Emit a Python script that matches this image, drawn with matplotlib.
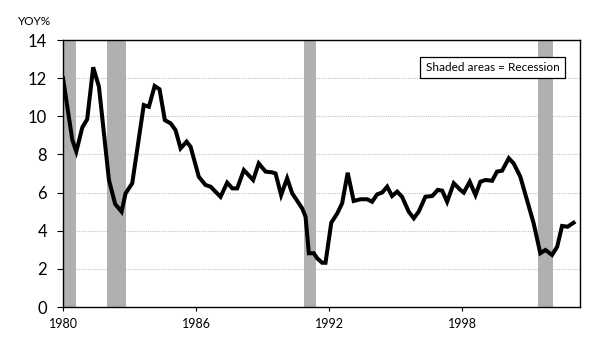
import numpy as np
import matplotlib
matplotlib.use('Agg')
import matplotlib.pyplot as plt

plt.rcParams['font.family'] = ['Lato', 'DejaVu Sans']

# YOY % change, vertices (decimal years)
dates = [1980.00, 1980.42, 1980.60, 1980.87, 1981.09, 1981.36, 1981.62, 1982.07,
         1982.35, 1982.64, 1982.82, 1983.12, 1983.64, 1983.87, 1984.13, 1984.35,
         1984.59, 1984.85, 1985.07, 1985.30, 1985.57, 1985.75, 1986.12, 1986.42,
         1986.65, 1987.10, 1987.40, 1987.63, 1987.85, 1988.15, 1988.57, 1988.82,
         1989.13, 1989.43, 1989.58, 1989.83, 1990.10, 1990.33, 1990.78, 1990.93,
         1991.08, 1991.30, 1991.46, 1991.68, 1991.83, 1992.09, 1992.36, 1992.58,
         1992.83, 1993.10, 1993.41, 1993.71, 1993.93, 1994.16, 1994.38, 1994.61,
         1994.83, 1995.06, 1995.28, 1995.58, 1995.81, 1996.03, 1996.33, 1996.64,
         1996.89, 1997.09, 1997.31, 1997.61, 1997.91, 1998.06, 1998.33, 1998.59,
         1998.81, 1999.04, 1999.34, 1999.56, 1999.79, 2000.09, 2000.31, 2000.61,
         2000.91, 2001.21, 2001.51, 2001.74, 2002.04, 2002.27, 2002.49, 2002.74,
         2003.01]
yoy = [12.0, 8.76, 8.15, 9.42, 9.84, 12.57, 11.55, 6.66,
       5.4, 5.0, 5.96, 6.49, 10.59, 10.5, 11.59, 11.42,
       9.8, 9.63, 9.28, 8.32, 8.67, 8.4, 6.83, 6.4,
       6.31, 5.78, 6.52, 6.22, 6.22, 7.18, 6.66, 7.53,
       7.1, 7.06, 7.0, 5.87, 6.75, 5.96, 5.17, 4.74,
       2.82, 2.82, 2.55, 2.32, 2.32, 4.42, 4.91, 5.44,
       7.04, 5.56, 5.65, 5.65, 5.52, 5.91, 6.0, 6.31,
       5.82, 6.05, 5.78, 5.0, 4.65, 5.0, 5.78, 5.82,
       6.14, 6.1, 5.52, 6.49, 6.14, 6.0, 6.57, 5.87,
       6.57, 6.66, 6.62, 7.1, 7.15, 7.8, 7.53, 6.83,
       5.61, 4.39, 2.82, 2.99, 2.73, 3.16, 4.25, 4.21,
       4.42]

# recession periods as shown
rec_start = [1980.05, 1982.0, 1990.85, 2001.41]
rec_end = [1980.60, 1982.86, 1991.38, 2002.09]

xticks = [1980, 1986, 1992, 1998]
yticks = [0, 2, 4, 6, 8, 10, 12, 14]

fig = plt.figure(figsize=(6, 3.56), dpi=100)
ax = fig.add_axes([0.105, 0.1376, 0.8617, 0.75])

for s, e in zip(rec_start, rec_end):
    ax.axvspan(s, e, color='#b0b0b0', lw=0, zorder=1)

for y in yticks[1:-1]:
    ax.axhline(y, color='#c4c4c4', lw=0.8, linestyle=(0, (1, 1)), zorder=0)

ax.plot(dates, yoy, color='black', lw=2.9, solid_joinstyle='miter', zorder=3)

ax.set_xlim(1980, 2003.3)
ax.set_ylim(0, 14)
ax.set_xticks(xticks)
ax.set_yticks(yticks)
ax.tick_params(axis='y', labelsize=12, length=4.5, width=0.8, pad=7)
ax.tick_params(axis='x', labelsize=9, length=3, width=0.8, pad=5)
for sp in ax.spines.values():
    sp.set_linewidth(1.0)

fig.text(0.0575, 0.94, 'YOY%', fontsize=8.5, ha='center', va='center')

ax.text(0.831, 0.897, 'Shaded areas = Recession', transform=ax.transAxes,
        fontsize=8.5, ha='center', va='center', zorder=5,
        bbox=dict(boxstyle='square,pad=0.45', fc='white', ec='black', lw=0.9))

fig.savefig('out.png', dpi=100)
